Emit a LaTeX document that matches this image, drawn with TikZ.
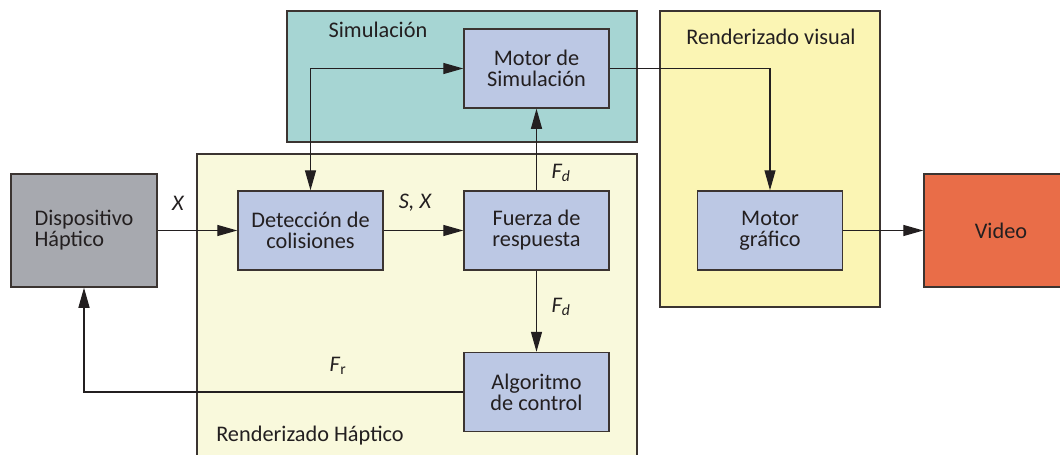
\documentclass[tikz,border=0pt]{standalone}
\usepackage{fontspec}
\setmainfont{Carlito}
\usetikzlibrary{arrows.meta}
\definecolor{simfill}{HTML}{A6D5D3}
\definecolor{visfill}{HTML}{FBF5B4}
\definecolor{hapfill}{HTML}{F9F9DC}
\definecolor{blockfill}{HTML}{BCC8E4}
\definecolor{devfill}{HTML}{A7A9AF}
\definecolor{vidfill}{HTML}{E96D48}
\definecolor{edge}{HTML}{3B3431}
\definecolor{ink}{HTML}{231F20}
\tikzset{
  region/.style={draw=edge, line width=1.5pt},
  block/.style={draw=edge, line width=1.5pt, fill=blockfill, minimum width=145pt, minimum height=79pt, align=center, inner sep=0pt, text=ink},
  bigblock/.style={draw=edge, line width=1.5pt, minimum height=113pt, inner sep=0pt, text=ink},
  conn/.style={draw=ink, line width=1.3pt, -{Triangle[length=20pt,width=11pt]}},
  lbl/.style={text=ink, inner sep=0pt},
}
\begin{document}
\begin{tikzpicture}[x=1pt,y=-1pt,font=\fontsize{22.3}{21}\selectfont]
\clip (0,0) rectangle (1060,455);
\fill[white] (0,0) rectangle (1060,455);
% regions
\draw[region, fill=simfill] (287,11) rectangle (637,142);
\draw[region, fill=visfill] (660,11) rectangle (880,307);
\draw[region, fill=hapfill] (197,154) rectangle (637,475);
\node[lbl] (simlbl) at (378,30) {Simulación};
\node[lbl] (vislbl) at (771,37) {Renderizado visual};
\node[lbl] (haplbl) at (310,436) {Renderizado Háptico};
% blocks
\node[bigblock, fill=devfill, minimum width=146pt, align=left] (disp) at (84,230.5) {Dispositivo\\Háptico};
\node[bigblock, fill=vidfill, minimum width=154pt] (video) at (1001,230.5) {Video};
\node[block] (det) at (310.5,230.5) {Detección de\\colisiones};
\node[block] (fuer) at (536.5,230.5) {Fuerza de\\respuesta};
\node[block] (motsim) at (536.5,68.5) {Motor de\\Simulación};
\node[block] (motgraf) at (770,230.5) {Motor\\gráfico};
\node[block] (alg) at (536.5,392) {Algoritmo\\de control};
% connectors
\draw[conn] (disp.east) -- (det.west);
\draw[conn] (det.east) -- (fuer.west);
\draw[conn] (fuer.north) -- (motsim.south);
\draw[conn] (fuer.south) -- (alg.north);
\draw[conn] (alg.west) -| (disp.south);
\draw[conn, {Triangle[length=20pt,width=11pt]}-{Triangle[length=20pt,width=11pt]}] (det.north) |- (motsim.west);
\draw[conn] (motsim.east) -| (motgraf.north);
\draw[conn] (motgraf.east) -- (video.west);
% labels
\node[lbl] (lx) at (178,203) {\itshape X};
\node[lbl] (lsx) at (415,203) {\itshape S, X};
\node[lbl] (lfd1) at (561,173) {\itshape F\textsubscript{d}};
\node[lbl] (lfd2) at (561,307) {\itshape F\textsubscript{d}};
\node[lbl] (lfr) at (338,366) {\textit{F}\textsubscript{r}};
\end{tikzpicture}
\end{document}
